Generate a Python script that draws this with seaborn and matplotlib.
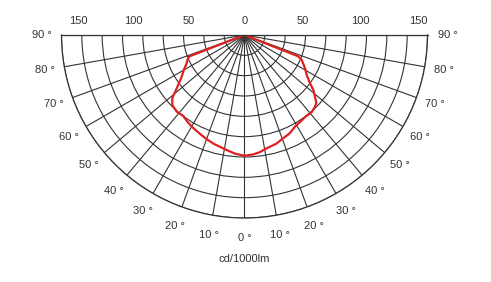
import numpy as np
import pandas as pd
import matplotlib
matplotlib.use("Agg")
import matplotlib.pyplot as plt
import seaborn as sns

# ---- data ----
# angle in degrees from nadir (negative = left half, positive = right half)
angles = [-90, -75, -68.8, -66.5, -63.9, -60.0, -56.4, -51.8, -48.8, -45.9, -41.5,
          -37.1, -33.5, -29.9, -24.4, -20.0, -16.0, -9.3, -4.5, 0,
          4.0, 7.5, 10.7, 16.4, 20.2, 24.5, 28.8, 32.5, 36.5, 41.2, 44.5, 46.6,
          48.8, 51.4, 53.6, 57.0, 61.2, 64.0, 66.4, 68.3, 75, 90]
intensity = [0, 0, 48.5, 51.0, 52.8, 57.5, 61.8, 70.7, 78.7, 82.4, 83.9,
             83.2, 85.0, 86.7, 88.8, 90.8, 92.6, 95.2, 97.6, 99.0,
             98.2, 96.8, 94.8, 92.8, 90.5, 88.8, 85.8, 84.6, 83.6, 83.8, 82.4, 81.0,
             76.8, 72.2, 66.7, 61.0, 56.6, 53.5, 51.2, 47.5, 0, 0]

ring_labels = [0, 50, 100, 150]
angle_labels = [0, 10, 20, 30, 40, 50, 60, 70, 80, 90]
r_max = 150
n_rings = 9
unit_label = "cd/1000lm"

sns.set_style("white")
plt.rcParams["font.family"] = ["Liberation Sans", "DejaVu Sans"]

grid_col = "#333333"
curve_col = "#e0201e"

W, H = 491, 282
cx, cy, R = 244.5, 35.0, 183.0   # pixel centre / radius of the half-disk
fig = plt.figure(figsize=(W / 100, H / 100), dpi=100)
# polar wedge is laid out inside a square box of side 2R centred half a radius below the pole
ax = fig.add_axes([(cx - R) / W, (H - (cy + 0.5 * R + R)) / H, 2 * R / W, 2 * R / H],
                  projection="polar")
ax.set_theta_zero_location("S")
ax.set_theta_direction(1)
ax.set_thetamin(-90)
ax.set_thetamax(90)
ax.set_rlim(0, r_max)

ax.set_xticks(np.deg2rad(np.arange(-90, 91, 10)))
ax.set_yticks(np.linspace(0, r_max, n_rings + 1)[1:])
ax.set_xticklabels([])
ax.set_yticklabels([])
ax.tick_params(length=0)
ax.grid(True, color=grid_col, linewidth=0.8)
for s in ax.spines.values():
    s.set_color(grid_col)
    s.set_linewidth(0.9)

df = pd.DataFrame({"theta": np.deg2rad(angles), "r": intensity})
sns.lineplot(data=df, x="theta", y="r", sort=False, estimator=None,
             color=curve_col, linewidth=1.6, ax=ax)
ax.set_xlabel("")
ax.set_ylabel("")

# angle labels on both halves
r_lab = r_max * 203 / 183
for a in angle_labels:
    for sgn in ([-1, 1] if a != 0 else [1]):
        ax.text(np.deg2rad(sgn * a), r_lab, f"{a} °", ha="center", va="center",
                fontsize=8, color="#333333", clip_on=False)

# intensity labels along the top edge
for v in ring_labels:
    for sgn, k in ((-1, 0.91), (1, 0.95)):
        if v == 0 and sgn == -1:
            continue
        ax.annotate(str(v), xy=(np.deg2rad(sgn * 90), v * k), xytext=(0, 14),
                    textcoords="offset pixels", ha="center", va="center",
                    fontsize=8, color="#333333", annotation_clip=False)

fig.text(244 / W, 1 - 259 / H, unit_label, ha="center", va="center",
         fontsize=8, color="#333333")

fig.savefig("out.png", dpi=100)
